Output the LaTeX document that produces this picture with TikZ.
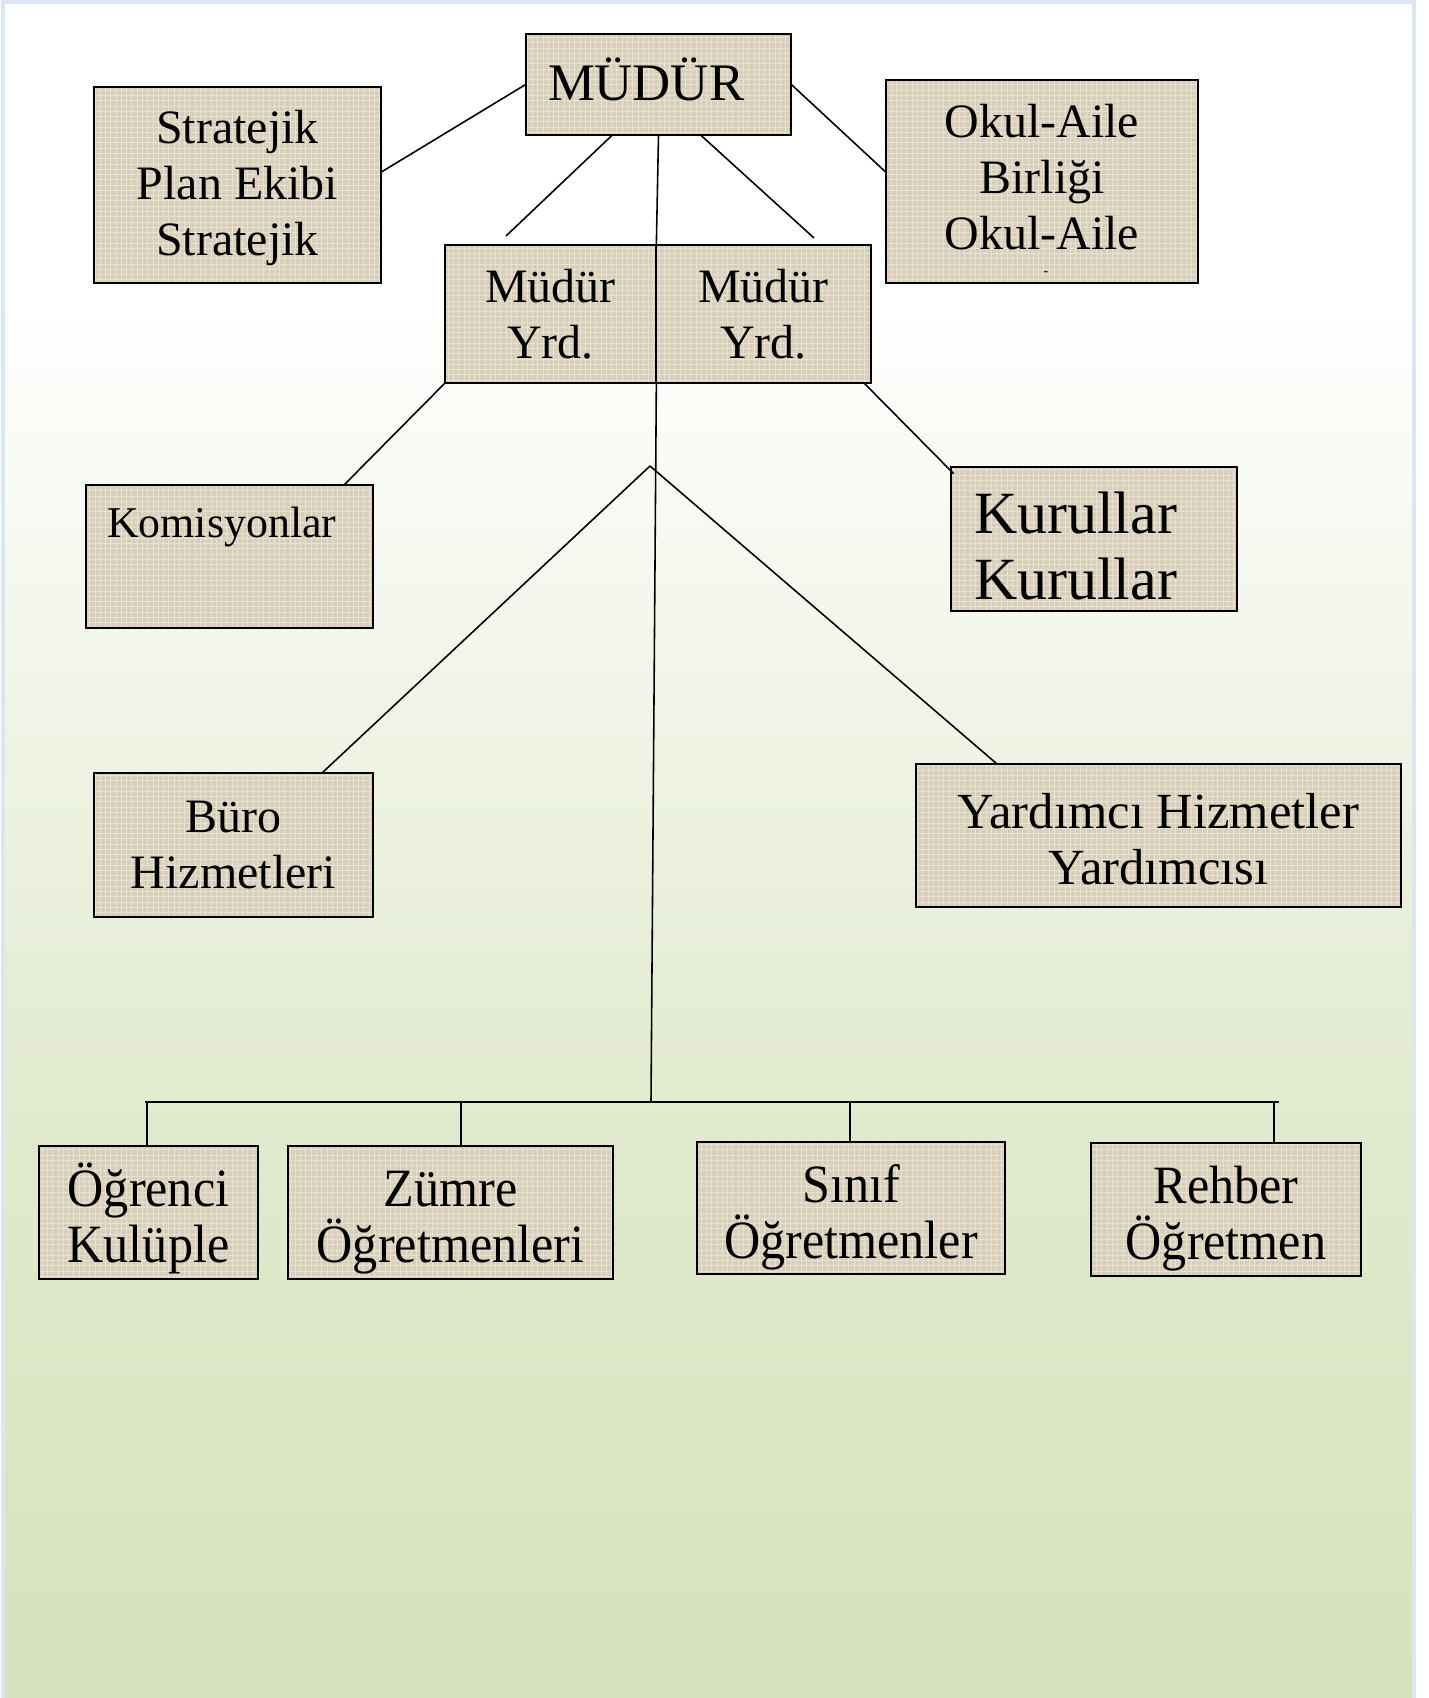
\documentclass[tikz,border=0pt]{standalone}
\usepackage{fontspec}
\setmainfont{Liberation Serif}
\newfontfamily\narrowserif[FakeStretch=0.93]{Liberation Serif}
\usetikzlibrary{patterns}
\definecolor{linen}{RGB}{216,207,186}
\definecolor{linenlight}{RGB}{233,226,211}
\definecolor{pageline}{RGB}{220,229,241}
\definecolor{bgmid}{RGB}{226,234,207}
\definecolor{bggreen}{RGB}{214,226,187}

\begin{document}
\begin{tikzpicture}[-,auto,every edge/.append style={line width=0.9pt}]
\tikzstyle{box}=[rectangle,fill=linen,postaction={pattern=grid,pattern color=linenlight},postaction={draw=black,line width=1.1pt},inner sep=0pt,align=flush center,font=\fontsize{27.3}{31.9}\selectfont]
\tikzstyle{lowbox}=[box,text height=1.20cm,text depth=1.46cm,font=\narrowserif\fontsize{30.7}{32.4}\selectfont]
% page and background
\useasboundingbox (0,0) rectangle (28.58,-33.96);
\fill[white] (0,0) rectangle (28.58,-33.96);
\shade[top color=white,bottom color=bgmid] (0.06,-6.00) rectangle (28.28,-22.00);
\shade[top color=bgmid,bottom color=bggreen] (0.06,-22.00) rectangle (28.28,-33.96);
\draw[pageline,line width=2pt] (0.06,-33.96) -- (0.06,-0.04) -- (28.28,-0.04) -- (28.28,-33.96);
% boxes
\node [box,minimum width=5.30cm,text width=4.42cm,inner xsep=0.44cm,align=left,text height=1.32cm,text depth=0.70cm,font=\fontsize{30}{36}\selectfont] (mudur) at(13.17,-1.69) {MÜDÜR};
\node [box,text width=5.74cm,text height=1.12cm,text depth=2.80cm] (strateji) at(4.75,-3.70) {Stratejik\\Plan Ekibi\\Stratejik};
\node [box,text width=6.24cm,text height=1.15cm,text depth=2.91cm] (okulaile) at(20.84,-3.63) {Okul-Aile\\Birliği\\Okul-Aile};
\node [font=\fontsize{8}{8}\selectfont,inner sep=0pt] (okulcizgi) at(20.92,-5.48) {-};
\node [box,minimum width=4.22cm,minimum height=2.76cm] (yrdsol) at(11.01,-6.28) {Müdür\\Yrd.};
\node [box,minimum width=4.30cm,minimum height=2.76cm] (yrdsag) at(15.27,-6.28) {Müdür\\Yrd.};
\node [box,text width=4.90cm,inner xsep=0.42cm,align=left,text height=1.04cm,text depth=1.82cm,font=\fontsize{25}{29}\selectfont] (komisyon) at(4.59,-11.13) {Komisyonlar};
\node [box,text width=4.80cm,inner xsep=0.46cm,align=left,text height=1.32cm,text depth=1.56cm,font=\fontsize{34.1}{38.1}\selectfont] (kurul) at(21.88,-10.78) {Kurullar\\Kurullar};
\node [box,minimum width=5.58cm,minimum height=2.88cm] (buro) at(4.67,-16.90) {Büro\\Hizmetleri};
\node [box,text width=9.70cm,text height=1.28cm,text depth=1.58cm,font=\fontsize{28.8}{31.9}\selectfont] (yardimci) at(23.17,-16.71) {Yardımcı Hizmetler\\Yardımcısı};
\node [lowbox,text width=4.38cm] (ogrenci) at(2.97,-24.25) {Öğrenci\\Kulüple};
\node [lowbox,text width=6.50cm] (zumre) at(9.01,-24.25) {Zümre\\Öğretmenleri};
\node [lowbox,text width=6.16cm,text depth=1.44cm] (sinif) at(17.02,-24.16) {Sınıf\\Öğretmenler};
\node [lowbox,text width=5.40cm] (rehber) at(24.52,-24.19) {Rehber\\Öğretmen};
% free ends
\coordinate (yrdsolust) at(10.12,-4.72);
\coordinate (yrdsagust) at(16.28,-4.76);
\coordinate (ayrim) at(13.00,-9.32);
\coordinate (bagla) at(13.02,-22.04);
\coordinate (cizgisol) at(2.90,-22.04);
\coordinate (cizgisag) at(25.58,-22.04);
\coordinate (ogrenciust) at(2.94,-22.04);
\coordinate (zumreust) at(9.22,-22.04);
\coordinate (sinifust) at(17.00,-22.04);
\coordinate (rehberust) at(25.48,-22.04);
% connectors
\path (mudur.west) edge ([yshift=0.26cm]strateji.east);
\path (mudur.east) edge ([yshift=0.19cm]okulaile.west);
\path ([xshift=-0.93cm]mudur.south) edge (yrdsolust);
\path (mudur.south) edge (yrdsol.north east);
\path ([xshift=0.85cm]mudur.south) edge (yrdsagust);
\path (yrdsol.south west) edge ([xshift=-0.58cm]komisyon.north east);
\path ([xshift=-0.14cm]yrdsag.south east) edge ([xshift=0.06cm,yshift=-0.14cm]kurul.north west);
\path (yrdsol.south east) edge (bagla);
\path (ayrim) edge ([xshift=-1.02cm]buro.north east);
\path (ayrim) edge ([xshift=1.62cm]yardimci.north west);
\path (cizgisol) edge (cizgisag);
\path (ogrenciust) edge ([xshift=-0.03cm]ogrenci.north);
\path (zumreust) edge ([xshift=0.21cm]zumre.north);
\path (sinifust) edge ([xshift=-0.02cm]sinif.north);
\path (rehberust) edge ([xshift=0.96cm]rehber.north);
\end{tikzpicture}
\end{document}
